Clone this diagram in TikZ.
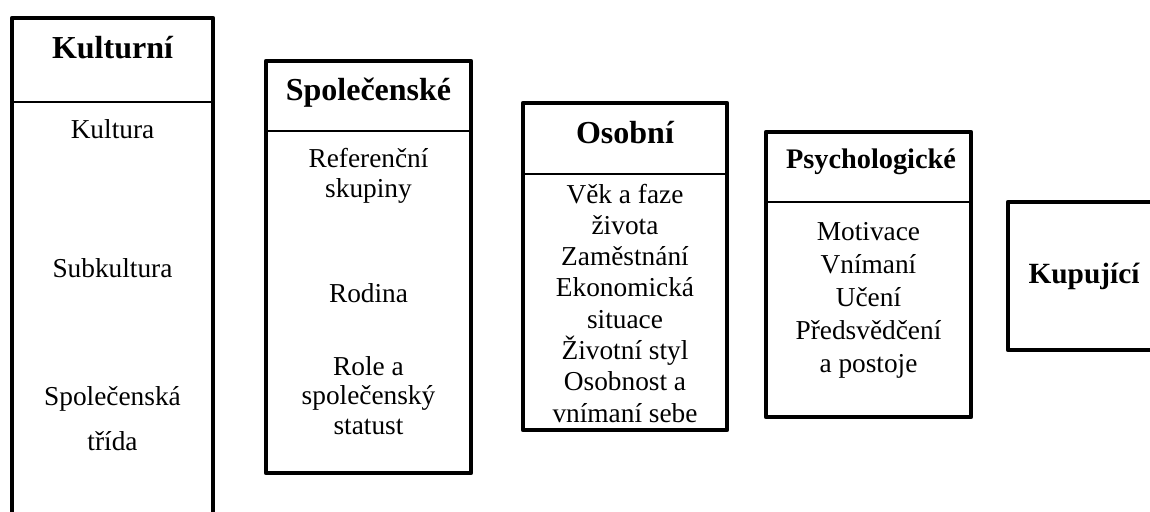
\documentclass[tikz,border=0pt]{standalone}
\usepackage{fontspec}
\setmainfont{Liberation Serif}
\begin{document}
\begin{tikzpicture}[x=0.75pt,y=-0.75pt,
  frame/.style={line width=3.4pt, line join=round},
  divider/.style={line width=1.5pt},
  ttl/.style={anchor=base, font=\fontsize{24}{28}\selectfont\bfseries, inner sep=0pt},
  body/.style={anchor=base, font=\fontsize{20.5}{24}\selectfont, inner sep=0pt}]
\useasboundingbox (0,0) rectangle (1150,511);
\clip (0,0) rectangle (1150,511);
% Box 1
\draw[frame] (12,18) rectangle (213,545);
\draw[divider] (12,102) -- (213,102);
\node[ttl] (t1) at (112.5,58) {Kulturní};
\node[body] (a1) at (112.5,138) {Kultura};
\node[body] (a2) at (112.5,277) {Subkultura};
\node[body] (a3) at (112.5,405) {Společenská};
\node[body] (a4) at (112.5,450) {třída};
% Box 2
\draw[frame] (266,61) rectangle (471,473);
\draw[divider] (266,131) -- (471,131);
\node[ttl] (t2) at (368.5,100) {Společenské};
\node[body] (b1) at (368.5,167) {Referenční};
\node[body] (b2) at (368.5,197) {skupiny};
\node[body] (b3) at (368.5,302) {Rodina};
\node[body] (b4) at (368.5,375) {Role a};
\node[body] (b5) at (368.5,404.5) {společenský};
\node[body] (b6) at (368.5,434) {statust};
% Box 3
\draw[frame] (523,103) rectangle (727,430);
\draw[divider] (523,174) -- (727,174);
\node[ttl] (t3) at (625,143) {Osobní};
\node[body] (c1) at (625,203) {Věk a faze};
\node[body] (c2) at (625,234.3) {života};
\node[body] (c3) at (625,265.6) {Zaměstnání};
\node[body] (c4) at (625,296.9) {Ekonomická};
\node[body] (c5) at (625,328.2) {situace};
\node[body] (c6) at (625,359.5) {Životní styl};
\node[body] (c7) at (625,390.8) {Osobnost a};
\node[body] (c8) at (625,422.1) {vnímaní sebe};
% Box 4
\draw[frame] (766,132) rectangle (971,417);
\draw[divider] (766,202) -- (971,202);
\node[ttl, font=\fontsize{21.25}{25}\selectfont\bfseries] (t4) at (871,168) {Psychologické};
\node[body] (d1) at (868.5,240) {Motivace};
\node[body] (d2) at (868.5,273) {Vnímaní};
\node[body] (d3) at (868.5,306) {Učení};
\node[body] (d4) at (868.5,339) {Předsvědčení};
\node[body] (d5) at (868.5,372) {a postoje};
% Box 5
\draw[frame] (1008,202) rectangle (1175,350);
\node[ttl, font=\fontsize{22}{26}\selectfont\bfseries] (t5) at (1084,283) {Kupující};
\end{tikzpicture}
\end{document}
